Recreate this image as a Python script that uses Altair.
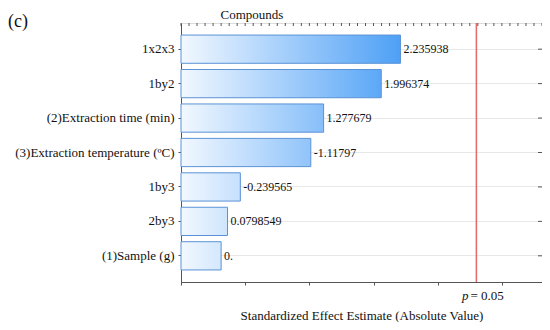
import altair as alt
import pandas as pd
import numpy as np

# ---- data ----
terms = ["1x2x3", "1by2", "(2)Extraction time (min)", "(3)Extraction temperature (ºC)",
         "1by3", "2by3", "(1)Sample (g)"]
effects = [2.235938, 1.996374, 1.277679, -1.11797, -0.239565, 0.0798549, 0.0]
labels = ["2.235938", "1.996374", "1.277679", "-1.11797", "-0.239565", "0.0798549", "0."]
p_crit = 3.182
x_min, x_max = -0.5, 4.0
tick_vals = [round(v, 2) for v in np.arange(-0.5, 4.0001, 0.1)]

W, H = 361, 259
FONT = "Liberation Serif, Times New Roman, DejaVu Serif, serif"

df = pd.DataFrame({"term": terms, "effect": effects, "label": labels})
df["absval"] = df["effect"].abs()
ticks_df = pd.DataFrame({"t": tick_vals})

xs = alt.Scale(domain=[x_min, x_max], nice=False, zero=False)
ys = alt.Scale(domain=terms, paddingInner=0.18, paddingOuter=0.35)

light = (0xF2, 0xF8, 0xFF)
dark = (0x4E, 0xA0, 0xF6)
max_len = max(abs(e) for e in effects) - x_min


def mix(f):
    c = [int(round(light[k] + (dark[k] - light[k]) * f)) for k in range(3)]
    return "#%02x%02x%02x" % tuple(c)


base = alt.Chart(df)

layers = []
axis_layer = base.mark_bar(opacity=0).encode(
    x=alt.X("absval:Q", scale=xs,
            axis=alt.Axis(values=tick_vals, labels=False, tickSize=3, tickColor="#555",
                          domainColor="#555", grid=False,
                          title="Standardized Effect Estimate (Absolute Value)",
                          titleFont=FONT, titleFontSize=13, titleFontWeight="normal",
                          titleColor="#111", titlePadding=24)),
    x2=alt.datum(x_min),
    y=alt.Y("term:N", scale=ys, sort=terms,
            axis=alt.Axis(title=None, labelFont=FONT, labelFontSize=13, labelColor="#111",
                          tickSize=3, tickColor="#555", domainColor="#555",
                          labelPadding=4, grid=True, gridColor="#e8e8e8")),
)
layers.append(axis_layer)

for t, e in zip(terms, effects):
    frac = (abs(e) - x_min) / max_len
    grad = alt.LinearGradient(
        gradient="linear",
        stops=[alt.GradientStop(color=mix(0.0), offset=0),
               alt.GradientStop(color=mix(frac), offset=1)],
        x1=0, x2=1, y1=0, y2=0)
    layers.append(
        base.transform_filter(alt.datum.term == t).mark_bar(
            fill=grad, stroke="#5a92d6", strokeWidth=1, cornerRadius=0
        ).encode(
            x=alt.X("absval:Q", scale=xs),
            x2=alt.datum(x_min),
            y=alt.Y("term:N", scale=ys, sort=terms),
        )
    )

values_text = base.mark_text(align="left", baseline="middle", dx=3, font=FONT,
                             fontSize=12, color="#111").encode(
    x=alt.X("absval:Q", scale=xs),
    y=alt.Y("term:N", scale=ys, sort=terms),
    text="label:N",
)
layers.append(values_text)

crit = alt.Chart(pd.DataFrame({"p": [p_crit]})).mark_rule(color="#e06b6b", strokeWidth=1.5).encode(
    x=alt.X("p:Q", scale=xs))
layers.append(crit)

crit_p = alt.Chart(pd.DataFrame({"p": [p_crit]})).mark_text(
    text="p", font=FONT, fontSize=13, fontStyle="italic", align="right", baseline="middle",
    dx=-8, color="#111").encode(x=alt.X("p:Q", scale=xs), y=alt.value(H + 14))
crit_v = alt.Chart(pd.DataFrame({"p": [p_crit]})).mark_text(
    text="= 0.05", font=FONT, fontSize=13, align="left", baseline="middle",
    dx=-6, color="#111").encode(x=alt.X("p:Q", scale=xs), y=alt.value(H + 14))
layers += [crit_p, crit_v]

top_ticks = alt.Chart(ticks_df).mark_rule(color="#555", strokeWidth=1).encode(
    x=alt.X("t:Q", scale=xs), y=alt.value(0), y2=alt.value(3))
layers.append(top_ticks)

right_ticks = base.mark_rule(color="#555", strokeWidth=1).encode(
    y=alt.Y("term:N", scale=ys, sort=terms), x=alt.value(W - 4), x2=alt.value(W))
layers.append(right_ticks)

comp = alt.Chart(pd.DataFrame({"a": [0]})).mark_text(
    text="Compounds", font=FONT, fontSize=13, align="center", baseline="middle",
    color="#111").encode(x=alt.value(71), y=alt.value(-8))
tag = alt.Chart(pd.DataFrame({"a": [0]})).mark_text(
    text="(c)", font=FONT, fontSize=18, align="left", baseline="middle",
    color="#111").encode(x=alt.value(-173), y=alt.value(-1))
layers += [comp, tag]

chart = alt.layer(*layers).properties(
    width=W, height=H,
    autosize=alt.AutoSizeParams(type="none"),
    padding={"left": 173, "top": 15, "right": 0, "bottom": 40},
).configure_view(stroke="#555", strokeWidth=1).configure(background="white")

chart.save("out.html", embed_options={"renderer": "svg", "actions": False})
